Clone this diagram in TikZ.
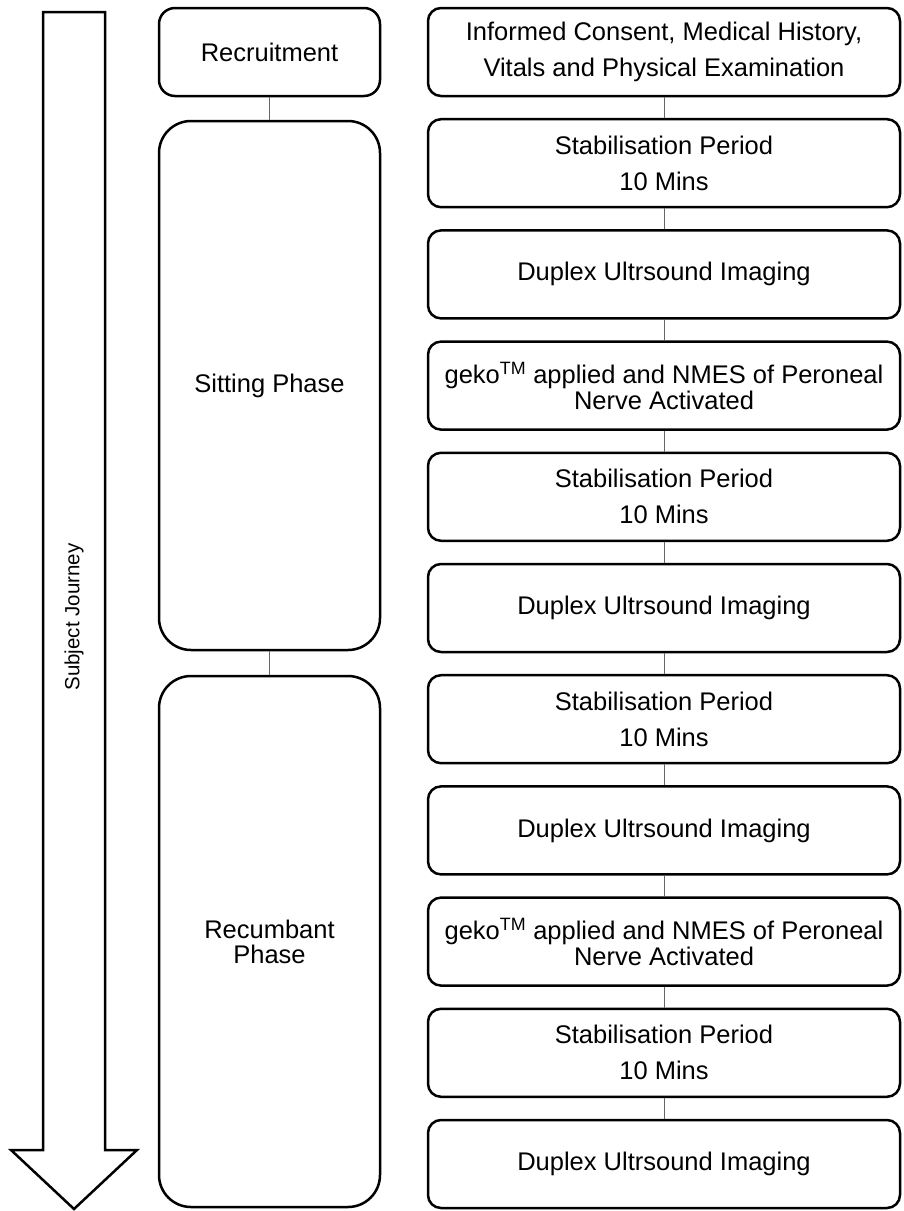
\documentclass[tikz,border=0pt]{standalone}
\usepackage{fontspec}
\setmainfont{Liberation Sans}
\begin{document}
\begin{tikzpicture}[x=1pt,y=-1pt,
  txt/.style={font=\fontsize{25.5}{36}\selectfont, align=center},
  stepbox/.style={txt, draw, line width=2.5pt, rounded corners=13pt, minimum width=472pt, minimum height=88pt, inner sep=0pt},
  tightbox/.style={stepbox, font=\fontsize{25.5}{26}\selectfont},
  phasebox/.style={txt, draw, line width=2.5pt, rounded corners=32pt, minimum width=221pt, inner sep=0pt},
  recbox/.style={txt, draw, line width=2.5pt, rounded corners=16pt, minimum width=221pt, minimum height=88pt, inner sep=0pt},
  link/.style={draw=gray!80!black, line width=0.9pt}
]
\useasboundingbox (0,0) rectangle (903,1211);
% journey arrow
\draw[line width=2.5pt, line join=miter] (43,12) -- (105,12) -- (105,1150) -- (137,1150) -- (74,1209) -- (11,1150) -- (43,1150) -- cycle;
\node[rotate=90, font=\fontsize{20.5}{24}\selectfont] (journey) at (74,617) {Subject Journey};
% left column
\node[recbox] (rec) at (269.5,52) {Recruitment};
\node[phasebox, minimum height=529pt] (sit) at (269.5,385.5) {Sitting Phase};
\node[phasebox, minimum height=531pt, font=\fontsize{25.5}{25}\selectfont] (rcb) at (269.5,941.5) {Recumbant\\Phase};
% right column
\node[stepbox] (s1) at (664,52) {Informed Consent, Medical History,\\Vitals and Physical Examination};
\node[stepbox] (s2) at (664,163.2) {Stabilisation Period\\10 Mins};
\node[stepbox] (s3) at (664,274.4) {Duplex Ultrsound Imaging};
\node[tightbox] (s4) at (664,385.6) {geko\textsuperscript{TM} applied and NMES of Peroneal\\Nerve Activated};
\node[stepbox] (s5) at (664,496.8) {Stabilisation Period\\10 Mins};
\node[stepbox] (s6) at (664,608) {Duplex Ultrsound Imaging};
\node[stepbox] (s7) at (664,719.2) {Stabilisation Period\\10 Mins};
\node[stepbox] (s8) at (664,830.4) {Duplex Ultrsound Imaging};
\node[tightbox] (s9) at (664,941.6) {geko\textsuperscript{TM} applied and NMES of Peroneal\\Nerve Activated};
\node[stepbox] (s10) at (664,1052.8) {Stabilisation Period\\10 Mins};
\node[stepbox] (s11) at (664,1164) {Duplex Ultrsound Imaging};
% connectors
\draw[link] (rec.south) -- (sit.north);
\draw[link] (sit.south) -- (rcb.north);
\foreach \a/\b in {s1/s2,s2/s3,s3/s4,s4/s5,s5/s6,s6/s7,s7/s8,s8/s9,s9/s10,s10/s11}
  \draw[link] (\a.south) -- (\b.north);
\end{tikzpicture}
\end{document}
